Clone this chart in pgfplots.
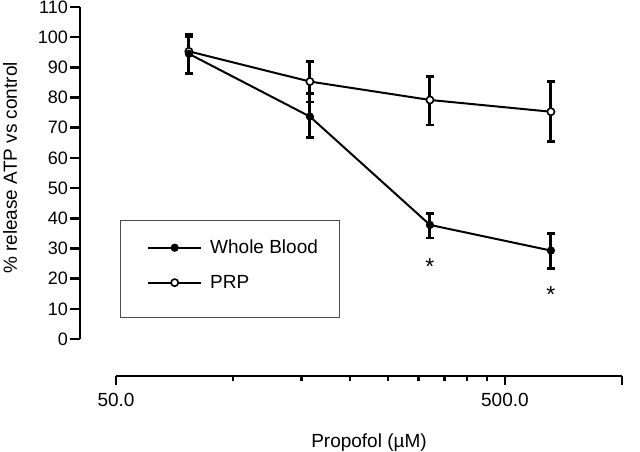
\documentclass[border=0pt]{standalone}
\usepackage{fontspec}
\setmainfont{Liberation Sans}
\usepackage{pgfplots}
\pgfplotsset{compat=1.18}
\usepackage{pgfplotstable}

\pgfplotstableread{
x y ep em
77.0 94.5 5.7 6.5
157.6 73.7 7.7 6.9
320.8 37.8 3.8 4.4
656.6 29.3 5.7 5.9
}\wb
\pgfplotstableread{
x y ep em
77.0 95.3 5.7 7.3
157.6 85.3 6.6 6.7
320.8 79.2 7.7 8.3
656.6 75.3 10.0 9.9
}\prp

\begin{document}
\begin{tikzpicture}
\useasboundingbox (-80pt,-112pt) rectangle (560pt,339pt);
\begin{axis}[
  at={(0pt,0pt)}, anchor=south west,
  scale only axis, width=542pt, height=332pt,
  xmode=log, xmin=40.41, xmax=1000, ymin=0, ymax=110,
  axis y line=left, axis x line=none,
  axis line style={line width=2.5pt,-},
  ytick={0,10,...,110},
  tick align=outside, major tick length=10pt,
  tick style={line width=2.5pt, black},
  yticklabel style={font=\fontsize{18}{18}\selectfont, inner sep=2pt},
  /pgf/number format/assume math mode=true,
  ylabel={\% release ATP vs control},
  every axis y label/.style={at={(rel axis cs:-0.1292,0.515)},rotate=90,anchor=center,font=\fontsize{19}{19}\selectfont},
  clip=false,
  reverse legend,
  legend cell align=left,
  legend style={at={(rel axis cs:0.1236,0.2229)}, anchor=west,
    draw=none, fill=none, inner xsep=0pt, inner ysep=0pt,
    row sep=16pt, font=\fontsize{19}{19}\selectfont},
  legend image code/.code={
    \path (0pt,0pt) (59pt,0pt);
    \draw[mark repeat=2,mark phase=2,#1] plot coordinates {(0pt,0pt) (26.5pt,0pt) (53pt,0pt)};
  },
]
\draw[black!70, line width=0.8pt] (rel axis cs:0.0738,0.3584) rectangle (rel axis cs:0.4779,0.0663);
\addplot[black, line width=2pt, mark=*, mark size=3.6pt,
  mark options={fill=white, line width=1.6pt},
  error bars/.cd, y dir=both, y explicit,
  error bar style={line width=3pt, black},
  error mark options={rotate=90, line width=2.5pt, mark size=4pt, black}]
  table[x=x,y=y,y error plus=ep,y error minus=em]{\prp};
\addlegendentry{PRP}
\addplot[black, line width=2pt, mark=*, mark size=3.6pt,
  mark options={fill=black, line width=1pt},
  error bars/.cd, y dir=both, y explicit,
  error bar style={line width=3pt, black},
  error mark options={rotate=90, line width=2.5pt, mark size=4pt, black}]
  table[x=x,y=y,y error plus=ep,y error minus=em]{\wb};
\addlegendentry{Whole Blood}
\node[anchor=base, font=\fontsize{23}{23}\selectfont] at (axis cs:320.8,21.5) {*};
\node[anchor=base, font=\fontsize{23}{23}\selectfont] at (axis cs:656.6,12.2) {*};
\end{axis}
\begin{axis}[
  at={(36pt,-37pt)}, anchor=south west,
  scale only axis, width=506pt, height=10pt,
  xmode=log, xmin=50, xmax=1000, ymin=0, ymax=1,
  axis x line=bottom, axis y line=none,
  axis line style={line width=2.5pt,-},
  xtick={50,500,1000}, xticklabels={50.0,500.0,},
  minor xtick={100,150,200,250,300,350,400,450},
  tick align=outside, major tick length=9pt, minor tick length=5pt,
  tick style={line width=2.5pt, black},
  xticklabel style={font=\fontsize{19}{19}\selectfont, yshift=-5pt},
  /pgf/number format/assume math mode=true,
  xlabel={Propofol (µM)},
  every axis x label/.style={at={(rel axis cs:0.5,0)}, anchor=center, yshift=-67pt, font=\fontsize{19}{19}\selectfont},
]
\addplot[draw=none] coordinates {(50,0.5)};
\end{axis}
\end{tikzpicture}
\end{document}
